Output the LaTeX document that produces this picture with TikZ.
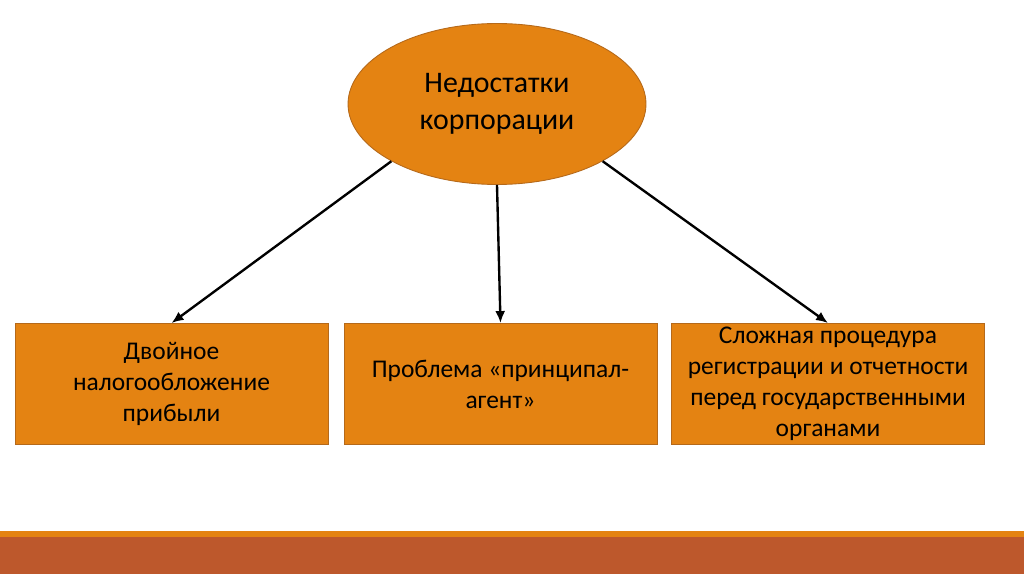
\documentclass[tikz,border=0pt]{standalone}
\usepackage{fontspec}
\setmainfont{Carlito}
\usepackage{xcolor}
\usepackage{tikz}
\usetikzlibrary{arrows.meta, shapes.geometric}
\definecolor{RsOrange}{HTML}{E48312}
\definecolor{RsRust}{HTML}{BD582C}
\definecolor{RsEdge}{HTML}{B5691A}

\tikzset{
  topic/.style={ellipse, draw=RsEdge, line width=0.5pt, fill=RsOrange,
    minimum width=5.96cm, minimum height=3.22cm, inner sep=0pt, align=center,
    font=\fontsize{17}{21}\selectfont},
  flaw/.style={rectangle, draw=RsEdge, line width=0.5pt, fill=RsOrange,
    minimum width=6.26cm, minimum height=2.42cm, inner sep=0pt, align=center,
    font=\fontsize{14.5}{17.6}\selectfont},
  link/.style={-{Latex[length=2.4mm,width=2mm]}, line width=1.35pt, black}
}

\begin{document}
\begin{tikzpicture}[x=0.02cm, y=-0.02cm]
  \useasboundingbox (0,0) rectangle (1024,574);
  \fill[white] (0,0) rectangle (1024,574);
  % footer bars
  \fill[RsOrange] (0,531) rectangle (1024,537);
  \fill[RsRust]   (0,537) rectangle (1024,574);

  \node[topic] (top) at (497,104) {Недостатки\\корпорации};

  \node[flaw] (tax)  at (171.5,384) {Двойное\\налогообложение\\прибыли};
  \node[flaw] (agent) at (500.5,384) {Проблема «принципал-\\агент»};
  \node[flaw] (reg)  at (828,384)
    {Сложная процедура\\регистрации и отчетности\\перед государственными\\органами};

  \draw[link] (top.south west) -- (tax.north);
  \draw[link] (top.south) -- (agent.north);
  \draw[link] (top.south east) -- (reg.north);
\end{tikzpicture}
\end{document}
